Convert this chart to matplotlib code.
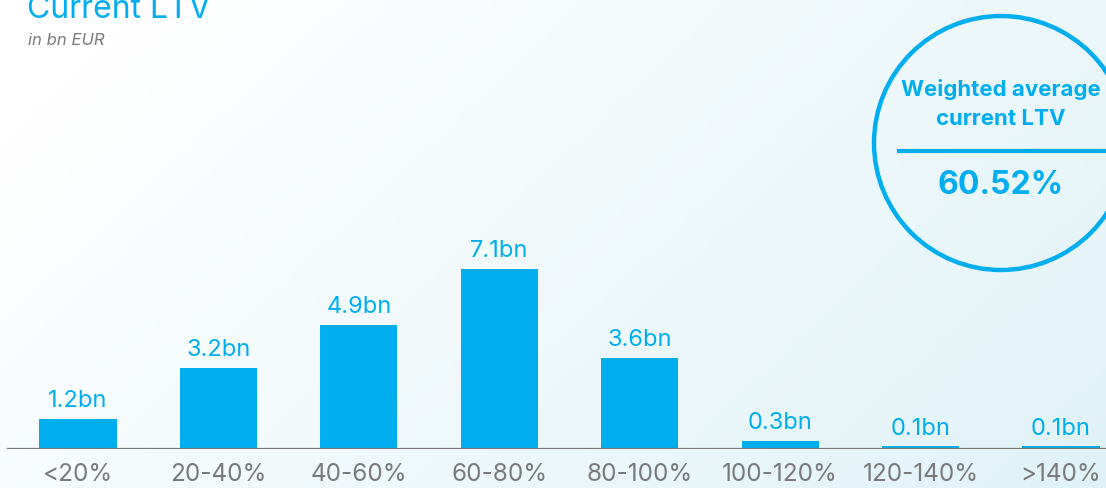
import numpy as np
import matplotlib.pyplot as plt
from matplotlib.patches import Circle

# data
categories = ['<20%', '20-40%', '40-60%', '60-80%', '80-100%', '100-120%', '120-140%', '>140%']
values = [1.2, 3.2, 4.9, 7.1, 3.6, 0.3, 0.1, 0.1]
value_labels = ['1.2bn', '3.2bn', '4.9bn', '7.1bn', '3.6bn', '0.3bn', '0.1bn', '0.1bn']
avg_ltv = '60.52%'

BLUE = '#00AEEF'
GREY = '#7a7a7a'
plt.rcParams['font.family'] = ['Inter', 'DejaVu Sans']

W, H = 1106, 488
fig = plt.figure(figsize=(W / 100, H / 100), dpi=100)

# soft background gradient (white on the left, pale blue on the right)
bg = fig.add_axes([0, 0, 1, 1], zorder=-2)
gx = np.linspace(0, 1, 200)
gy = np.linspace(0, 1, 100)
X, Y = np.meshgrid(gx, gy)
t = np.clip(0.75 * X + 0.35 * Y - 0.1, 0, 1)
c0 = np.array([1.0, 1.0, 1.0])
c1 = np.array([0.88, 0.95, 0.97])
img = c0 + (c1 - c0) * t[..., None]
bg.imshow(img, extent=[0, 1, 0, 1], aspect='auto', origin='upper')
bg.axis('off')

# bar chart
ax = fig.add_axes([0, 39 / H, 1, 449 / H])
ax.patch.set_alpha(0)
x = np.arange(len(categories))
ax.bar(x, values, width=0.55, color=BLUE)
ax.set_xlim(-0.555, 7.32)
ax.set_ylim(0, 17.75)
for xi, v, lab in zip(x, values, value_labels):
    ax.annotate(lab, (xi, v), xytext=(0, 5), textcoords='offset points',
                ha='center', va='bottom', fontsize=17, color=BLUE)
ax.axhline(0, xmin=8 / W, xmax=1, color='#777777', lw=1.6)
ax.set_xticks(x)
ax.set_xticklabels(categories, fontsize=17.5, color=GREY)
ax.tick_params(axis='x', length=0, pad=10)
ax.set_yticks([])
for s in ax.spines.values():
    s.set_visible(False)

# overlay in pixel coordinates for titles and the circle call-out
ov = fig.add_axes([0, 0, 1, 1], zorder=3)
ov.set_xlim(0, W)
ov.set_ylim(H, 0)
ov.axis('off')
ov.text(27, 18, 'Current LTV', fontsize=23, color=BLUE, va='baseline', ha='left')
ov.text(28, 45, 'in bn EUR', fontsize=12, color=GREY, style='italic', va='baseline', ha='left')

ov.add_patch(Circle((1001, 143), 127, fill=False, ec=BLUE, lw=3.2))
ov.text(1001, 90, 'Weighted average', fontsize=16, color=BLUE, fontweight='bold', ha='center', va='center')
ov.text(1001, 119, 'current LTV', fontsize=16, color=BLUE, fontweight='bold', ha='center', va='center')
ov.plot([899, 1104], [151, 151], color=BLUE, lw=3)
ov.text(1001, 186, avg_ltv, fontsize=23, color=BLUE, fontweight='bold', ha='center', va='center')

fig.savefig('out.png', dpi=100)
